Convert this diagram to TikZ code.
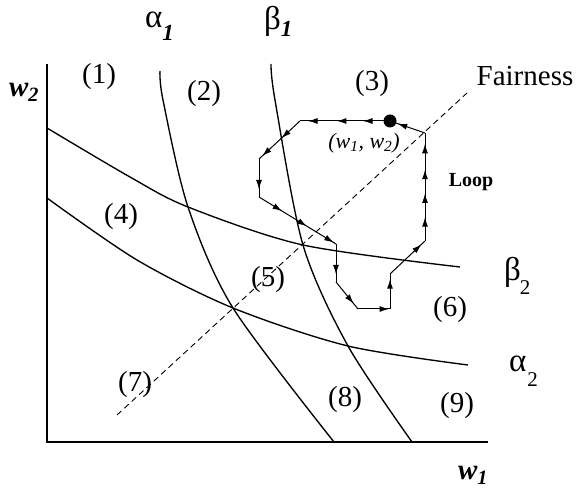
\documentclass[tikz,border=0pt]{standalone}
\usepackage{fontspec}
\setmainfont{Liberation Serif}
\usetikzlibrary{arrows.meta,decorations.markings}
\newcommand\gsubsc[3]{\kern#1\raisebox{-#2}{#3}}
\begin{document}
\begin{tikzpicture}[x=1pt,y=-1pt,
  curve/.style={line width=1.35pt},
  axis/.style={line width=1.1pt},
  fair/.style={line width=0.9pt, dash pattern=on 6pt off 4pt},
  seg/.style={line width=1pt},
  am/.style={postaction={decorate,decoration={markings,mark=at position #1 with {\arrow{Latex[length=9.5pt,width=6pt]}}}}},
  lab/.style={font=\fontsize{29}{34}\selectfont, inner sep=0pt},
  greek/.style={font=\fontsize{33}{38}\selectfont, inner sep=0pt, anchor=base west},
  small/.style={font=\fontsize{22}{26}\selectfont\itshape, inner sep=0pt},
  loopl/.style={font=\fontsize{20}{24}\selectfont\bfseries, inner sep=0pt}
]
\useasboundingbox (0,0) rectangle (579,494);

% axes
\coordinate (O) at (47,442);
\coordinate (Ytop) at (47,64);
\coordinate (Xend) at (488,442);
\draw[axis] (Ytop) -- (O) -- (Xend);

% curves
\draw[curve] plot[smooth] coordinates {(160,71) (163,100) (188,207) (233,308) (334,442)};
\draw[curve] plot[smooth] coordinates {(271,64) (275,100) (303,245) (348,346) (412,442)};
\draw[curve] plot[smooth] coordinates {(47,128) (130,177) (188,207) (303,245) (460,267)};
\draw[curve] plot[smooth] coordinates {(47,198) (137,260) (233,308) (348,346) (468,365)};

% fairness line
\coordinate (F1) at (117,415);
\coordinate (F2) at (467,93);
\draw[fair] (F1) -- (F2);

% loop
\coordinate (P) at (390,121);
\coordinate (A) at (300,121);
\coordinate (B) at (259,159);
\coordinate (C) at (259,197);
\coordinate (D) at (336,244);
\coordinate (E) at (336,282);
\coordinate (Fp) at (358,309);
\coordinate (G) at (390,309);
\coordinate (H) at (390,274);
\coordinate (I) at (425,241);
\coordinate (J) at (425,133);
\draw[seg,am=0.3,am=0.59,am=0.91] (P) -- (A);
\draw[seg,am=0.45,am=0.92] (A) -- (B);
\draw[seg,am=0.8] (B) -- (C);
\draw[seg,am=0.3,am=0.62,am=0.97] (C) -- (D);
\draw[seg,am=0.8] (D) -- (E);
\draw[seg,am=0.8] (E) -- (Fp);
\draw[seg,am=0.97] (Fp) -- (G);
\draw[seg,am=0.85] (G) -- (H);
\draw[seg,am=0.9] (H) -- (I);
\draw[seg,am=0.22,am=0.44,am=0.66,am=0.9] (I) -- (J);
\draw[seg,am=0.78] (J) -- (P);
\fill (P) circle[radius=6.5pt];

% labels
\node[lab] (l1) at (99,77) {(1)};
\node[lab] (l2) at (204,94) {(2)};
\node[lab] (l3) at (372,84) {(3)};
\node[lab] (l4) at (121,217) {(4)};
\node[lab] (l5) at (268,280) {(5)};
\node[lab] (l6) at (450,310) {(6)};
\node[lab] (l7) at (135,385) {(7)};
\node[lab] (l8) at (345,400) {(8)};
\node[lab] (l9) at (457,406) {(9)};
\node[lab] (fair) at (525,76) {Fairness};
\node[greek] (a1) at (145,28) {α\gsubsc{0pt}{13pt}{\fontsize{23}{24}\selectfont\bfseries\itshape 1}};
\node[greek] (b1) at (264,30) {β\gsubsc{0pt}{7pt}{\fontsize{23}{24}\selectfont\bfseries\itshape 1}};
\node[greek] (b2) at (504,281) {β\gsubsc{-1pt}{14pt}{\fontsize{21}{22}\selectfont 2}};
\node[greek] (a2) at (509,372) {α\gsubsc{1pt}{15pt}{\fontsize{21}{22}\selectfont 2}};
\node[lab] (w2) at (24,92) {\bfseries\itshape w\textsubscript{2}};
\node[lab] (w1) at (473,475) {\bfseries\itshape w\textsubscript{1}};
\node[small] (pt) at (364,143) {(w\textsubscript{1}, w\textsubscript{2})};
\node[loopl] (lp) at (471,182) {Loop};
\end{tikzpicture}
\end{document}
